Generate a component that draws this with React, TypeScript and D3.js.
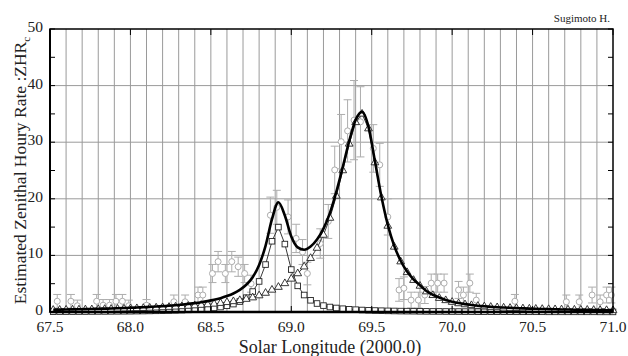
import * as d3 from 'd3'

// model grid (solar longitude, 2000.0)
const lon = [67.52,67.56,67.60,67.64,67.68,67.72,67.76,67.80,67.84,67.88,67.92,67.96,68.00,68.04,68.08,68.12,68.16,68.20,68.24,68.28,68.32,68.36,68.40,68.44,68.48,68.52,68.56,68.60,68.64,68.68,68.72,68.76,68.80,68.84,68.88,68.92,68.96,69.00,69.04,69.08,69.12,69.16,69.20,69.24,69.28,69.32,69.36,69.40,69.44,69.48,69.52,69.56,69.60,69.64,69.68,69.72,69.76,69.80,69.84,69.88,69.92,69.96,70.00,70.04,70.08,70.12,70.16,70.20,70.24,70.28,70.32,70.36,70.40,70.44,70.48,70.52,70.56,70.60,70.64,70.68,70.72,70.76,70.80,70.84,70.88,70.92,70.96,71.00]

// first component (squares)
const compA = [0.06,0.07,0.07,0.07,0.08,0.08,0.09,0.10,0.10,0.11,
  0.12,0.13,0.14,0.16,0.17,0.19,0.21,0.23,0.26,0.29,
  0.33,0.38,0.44,0.51,0.60,0.72,0.88,1.10,1.40,1.85,
  2.53,3.61,5.40,8.38,12.5,15.0,12.0,7.50,4.62,3.00,
  2.07,1.50,1.13,0.88,0.71,0.58,0.48,0.41,0.35,0.30,
  0.26,0.23,0.20,0.18,0.16,0.15,0.14,0.12,0.11,0.10,
  0.10,0.09,0.08,0.08,0.07,0.07,0.06,0.06,0.06,0.05,
  0.05,0.05,0.04,0.04,0.04,0.04,0.04,0.03,0.03,0.03,
  0.03,0.03,0.03,0.03,0.03,0.02,0.02,0.02]

// second component (triangles)
const compB = [0.34,0.35,0.37,0.39,0.40,0.42,0.44,0.46,0.49,0.51,
  0.54,0.57,0.60,0.63,0.67,0.71,0.75,0.80,0.86,0.91,
  0.98,1.05,1.13,1.22,1.32,1.43,1.56,1.71,1.87,2.06,
  2.28,2.54,2.90,3.35,3.90,4.40,5.05,5.85,6.80,8.00,
  9.50,11.3,13.6,16.6,20.5,25.0,29.7,33.5,35.0,32.4,
  26.4,20.2,15.2,11.5,8.90,7.00,5.62,4.60,3.60,2.95,
  2.45,2.05,1.75,1.50,1.32,1.17,1.04,0.95,0.87,0.80,
  0.74,0.69,0.64,0.60,0.56,0.53,0.50,0.47,0.45,0.42,
  0.40,0.38,0.36,0.35,0.33,0.31,0.30,0.28]

// total (thick line)
const total = [0.40,0.42,0.44,0.46,0.48,0.50,0.53,0.56,0.59,0.62,
  0.66,0.70,0.74,0.79,0.84,0.90,0.96,1.03,1.12,1.20,
  1.31,1.43,1.57,1.73,1.92,2.15,2.44,2.81,3.27,3.91,
  4.81,6.15,8.30,11.7,16.4,19.4,17.05,13.35,11.42,11.0,
  11.57,12.8,14.73,17.48,21.21,25.58,30.18,33.91,35.35,32.7,
  26.66,20.43,15.4,11.68,9.06,7.15,5.76,4.72,3.71,3.05,
  2.55,2.14,1.83,1.58,1.39,1.24,1.10,1.01,0.93,0.85,
  0.79,0.74,0.68,0.64,0.60,0.57,0.54,0.50,0.48,0.45,
  0.43,0.41,0.39,0.38,0.36,0.33,0.32,0.30]

// observations
const obsLon = [67.545,67.63,67.67,67.79,67.83,67.87,67.91,67.95,67.99,68.10,
  68.27,68.34,68.42,68.45,68.51,68.545,68.59,68.63,68.67,68.71,
  68.75,68.87,68.91,68.98,69.03,69.07,69.10,69.18,69.23,69.27,
  69.31,69.35,69.39,69.43,69.51,69.55,69.60,69.67,69.70,69.745,
  69.79,69.83,69.87,69.91,69.95,70.04,70.07,70.11,70.15,70.39,
  70.71,70.79,70.87,70.92,70.96,70.99]
const obsZhr = [1.9,1.9,1.1,1.9,1.2,1.2,1.9,1.9,1.1,1.2,
  1.8,1.8,3.0,3.0,6.8,8.9,6.8,8.9,8.0,6.8,
  5.0,17.1,18.5,16.8,13.0,10.6,6.8,12.1,16.0,25.1,
  30.1,32.0,33.9,33.6,28.9,26.0,16.8,3.9,4.2,2.1,
  2.1,3.0,5.1,5.1,5.1,3.9,3.0,5.1,2.1,1.9,
  1.8,1.8,3.0,1.8,3.0,3.0]
const obsErr = [1.2,1.2,1.0,1.2,1.0,1.0,1.2,1.2,1.0,1.0,
  1.2,1.2,1.4,1.4,1.6,1.8,1.6,1.8,1.7,1.6,
  1.5,3.2,3.0,3.0,2.5,2.2,2.0,2.6,3.0,4.2,
  4.8,5.5,7.0,6.2,4.2,3.8,3.2,2.0,2.0,1.4,
  1.4,1.5,1.6,1.6,1.6,1.5,1.4,1.6,1.2,1.2,
  1.2,1.2,1.4,1.2,1.4,1.4]

const xTicks = [67.5, 68.0, 68.5, 69.0, 69.5, 70.0, 70.5, 71.0]
const yTicks = [0, 10, 20, 30, 40, 50]

export default function App() {
  const W = 628, H = 356
  const x = d3.scaleLinear().domain([67.5, 71.0]).range([50, 613])
  const y = d3.scaleLinear().domain([0, 50]).range([312, 29])
  const font = 'Liberation Serif'
  const grid = '#9a9a9a'
  const obsC = '#adadad'

  const pts = (vals: number[]) => lon.map((l, i) => [l, vals[i]] as [number, number])
  const lineLin = d3.line<[number, number]>().x(d => x(d[0])).y(d => y(d[1]))
  const lineSmooth = d3.line<[number, number]>().x(d => x(d[0])).y(d => y(d[1])).curve(d3.curveMonotoneX)

  const vGrid = d3.range(1, 35).map(i => 67.5 + i * 0.1)
  const minorY = [5, 15, 25, 35, 45]
  const triPath = d3.symbol(d3.symbolTriangle, 26)()

  return (
    <svg width={W} height={H} fontFamily={font}
      style={{ position: 'absolute', left: 0, top: 0, background: '#fff' }}>
      {/* grid */}
      {vGrid.map((v, i) => (
        <line key={'v' + i} x1={x(v)} x2={x(v)} y1={y(50)} y2={y(0)} stroke={grid} strokeWidth={1} />
      ))}
      {yTicks.slice(1, -1).map(v => (
        <line key={'h' + v} x1={x(67.5)} x2={x(71)} y1={y(v)} y2={y(v)} stroke={grid} strokeWidth={1} />
      ))}

      {/* observations */}
      <g stroke={obsC} strokeWidth={1} fill="none">
        {obsLon.map((l, i) => {
          const cx = x(l), lo = Math.max(0, obsZhr[i] - obsErr[i]), hi = obsZhr[i] + obsErr[i]
          return (
            <g key={'o' + i}>
              <line x1={cx} x2={cx} y1={y(lo)} y2={y(hi)} />
              <line x1={cx - 4} x2={cx + 4} y1={y(hi)} y2={y(hi)} />
              <line x1={cx - 4} x2={cx + 4} y1={y(lo)} y2={y(lo)} />
              <circle cx={cx} cy={y(obsZhr[i])} r={3} fill="#fff" />
            </g>
          )
        })}
      </g>

      {/* component lines */}
      <path d={lineLin(pts(compA)) || ''} fill="none" stroke="#222" strokeWidth={0.9} />
      <path d={lineLin(pts(compB)) || ''} fill="none" stroke="#222" strokeWidth={0.9} />
      {lon.map((l, i) => (
        <rect key={'s' + i} x={x(l) - 2.8} y={y(compA[i]) - 2.8} width={5.6} height={5.6}
          fill="#fff" stroke="#222" strokeWidth={0.9} />
      ))}
      {lon.map((l, i) => (
        <path key={'t' + i} d={triPath || ''} transform={`translate(${x(l)},${y(compB[i])})`}
          fill="#fff" stroke="#222" strokeWidth={0.9} />
      ))}

      {/* total */}
      <path d={lineSmooth(pts(total)) || ''} fill="none" stroke="#000" strokeWidth={2.6} strokeLinejoin="round" />

      {/* frame */}
      <rect x={x(67.5)} y={y(50)} width={x(71) - x(67.5)} height={y(0) - y(50)} fill="none" stroke="#000" strokeWidth={1.5} />
      <line x1={x(67.5)} x2={x(71)} y1={y(0)} y2={y(0)} stroke="#000" strokeWidth={2.5} />
      <line x1={x(67.5)} x2={x(67.5)} y1={y(0)} y2={y(50)} stroke="#000" strokeWidth={2} />

      {/* ticks */}
      {xTicks.map(v => (
        <g key={'xt' + v}>
          <line x1={x(v)} x2={x(v)} y1={y(0)} y2={y(0) - 6} stroke="#000" strokeWidth={1} />
          <line x1={x(v)} x2={x(v)} y1={y(50)} y2={y(50) + 6} stroke="#000" strokeWidth={1} />
          <text x={x(v)} y={332} textAnchor="middle" fontSize={15.5} fontFamily={font} fill="#222">{v.toFixed(1)}</text>
        </g>
      ))}
      {[...yTicks, ...minorY].map(v => (
        <g key={'yt' + v}>
          <line x1={x(67.5)} x2={x(67.5) + 5} y1={y(v)} y2={y(v)} stroke="#000" strokeWidth={1} />
          <line x1={x(71)} x2={x(71) - 5} y1={y(v)} y2={y(v)} stroke="#000" strokeWidth={1} />
        </g>
      ))}
      {yTicks.map(v => (
        <text key={'yl' + v} x={43} y={y(v) + 3} textAnchor="end" fontSize={15.5} fontFamily={font} fill="#222">{v}</text>
      ))}

      {/* labels */}
      <text x={330} y={353} textAnchor="middle" fontSize={18} fontFamily={font} fill="#222">Solar Longitude (2000.0)</text>
      <text transform={`translate(26,${(y(0) + y(50)) / 2}) rotate(-90)`} textAnchor="middle" fontSize={17.5}
        fontFamily={font} fill="#222">
        Estimated Zenithal Houry Rate :ZHR<tspan fontSize={11} dy={4}>c</tspan>
      </text>
      <text x={610} y={22} textAnchor="end" fontSize={11} fontFamily={font} fill="#222">Sugimoto H.</text>
    </svg>
  )
}
